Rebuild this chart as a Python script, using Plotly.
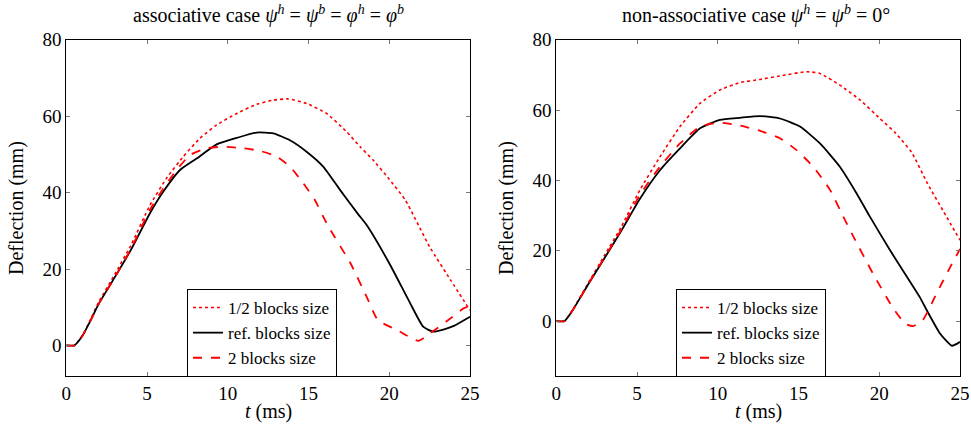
import plotly.graph_objects as go

# ---------------- data: left panel (associative case) ----------------
t_ref_a = [0, 0.5, 1.0, 1.5, 2.0, 3.0, 4.0, 5.18, 6.0, 7.04, 8.07, 9.31, 10.55, 11.79, 12.82,
           13.85, 14.88, 15.91, 16.95, 18.08, 18.6, 20.0, 21.3, 22.1, 22.7, 23.4, 24.0, 25.0]
v_ref_a = [0, 0, 2.5, 6.5, 10.8, 17.8, 25.0, 34.6, 40.2, 45.9, 48.9, 52.6, 54.3, 55.7, 55.5,
           53.7, 50.7, 46.8, 40.7, 34.3, 31.5, 21.5, 11.0, 4.9, 3.6, 4.2, 5.1, 7.5]

t_half_a = [0, 0.5, 1.0, 1.5, 2.0, 3.0, 4.0, 5.18, 6.2, 7.24, 8.28, 9.31, 10.55, 11.79, 12.82,
            13.75, 14.88, 16.12, 17.36, 18.19, 19.0, 20.0, 21.0, 22.5, 23.8, 25.0]
v_half_a = [0, 0, 2.6, 6.8, 11.3, 18.6, 26.2, 36.7, 43.7, 49.4, 54.2, 57.7, 60.7, 63.1, 64.2,
            64.5, 63.3, 60.7, 55.9, 52.0, 48.5, 43.5, 38.0, 25.8, 17.1, 9.2]

t_two_a = [0, 0.5, 1.0, 1.5, 2.0, 3.0, 4.0, 5.18, 6.0, 6.83, 7.66, 8.69, 9.72, 10.96, 12.0,
           13.03, 13.85, 14.68, 15.4, 15.91, 16.3, 17.6, 18.6, 19.3, 20.5, 21.8, 22.5, 23.8, 24.6, 25.0]
v_two_a = [0, 0, 2.5, 6.5, 10.8, 17.8, 25.2, 35.5, 41.0, 45.9, 49.8, 51.6, 52.0, 51.6, 50.9,
           49.4, 46.8, 42.4, 38.0, 33.7, 30.6, 21.5, 12.7, 6.6, 4.0, 1.2, 3.1, 7.1, 9.7, 10.3]

# ---------------- data: right panel (non-associative case) ----------------
t_ref_b = [0, 0.5, 1.0, 2.0, 3.0, 4.0, 5.18, 6.42, 7.66, 8.9, 10.13, 11.37, 12.61, 13.85, 15.09,
           16.33, 17.56, 18.6, 19.42, 20.66, 22.5, 23.0, 23.76, 24.5, 25.0]
v_ref_b = [0, 0, 3.0, 10.6, 18.0, 25.5, 34.8, 42.9, 49.1, 54.8, 57.2, 57.8, 58.3, 57.6, 55.3,
           50.5, 43.9, 36.3, 29.7, 20.2, 6.9, 2.6, -3.5, -7.0, -5.9]

t_half_b = [0, 0.5, 1.0, 2.0, 3.0, 4.0, 5.18, 6.42, 7.66, 8.9, 10.13, 11.37, 12.61, 13.85, 15.5,
            16.33, 17.56, 18.8, 20.04, 21.0, 22.0, 23.0, 24.0, 25.0]
v_half_b = [0, 0, 3.1, 11.0, 18.8, 26.6, 37.3, 46.7, 55.3, 61.9, 65.7, 67.8, 68.7, 69.7, 70.9,
            70.4, 67.1, 62.9, 57.6, 53.5, 48.0, 39.0, 31.0, 23.0]

t_two_b = [0, 0.5, 1.0, 2.0, 3.0, 4.0, 5.18, 6.42, 7.66, 8.9, 10.13, 11.37, 12.61, 13.85, 14.88,
           15.91, 16.95, 17.77, 18.4, 19.6, 20.8, 21.6, 22.1, 22.7, 23.55, 24.4, 25.0]
v_two_b = [0, 0, 3.0, 10.7, 18.2, 25.8, 35.9, 43.9, 50.5, 55.3, 56.4, 55.6, 54.1, 52.0, 48.6,
           43.9, 37.3, 29.7, 24.0, 13.6, 4.1, -0.7, -1.4, 0.3, 7.9, 15.4, 20.5]

series_names = ["1/2 blocks size", "ref. blocks size", "2 blocks size"]
x_ticks = [0, 5, 10, 15, 20, 25]
y_ticks = [0, 20, 40, 60, 80]

FONT = "Liberation Serif"
RED = "#ff0000"

fig = go.Figure()

def add_panel(xa, ya, leg, data):
    styles = [dict(color=RED, dash="dot", width=1.6, shape="spline", smoothing=0.5),
              dict(color="black", dash="solid", width=1.8, shape="spline", smoothing=0.5),
              dict(color=RED, dash="dash", width=1.8, shape="spline", smoothing=0.5)]
    for (tt, vv), name, st in zip(data, series_names, styles):
        fig.add_trace(go.Scatter(x=tt, y=vv, mode="lines", name=name, line=st,
                                 xaxis=xa, yaxis=ya, legend=leg, showlegend=True))

add_panel("x", "y", "legend", [(t_half_a, v_half_a), (t_ref_a, v_ref_a), (t_two_a, v_two_a)])
add_panel("x2", "y2", "legend2", [(t_half_b, v_half_b), (t_ref_b, v_ref_b), (t_two_b, v_two_b)])

W, H = 971, 432
def px(x):
    return x / W
def py(y):
    return 1 - y / H

axis_common = dict(showline=True, linecolor="black", linewidth=1, mirror="ticks",
                   ticks="inside", ticklen=4, tickcolor="#777", showgrid=False, zeroline=False,
                   automargin=False,
                   tickfont=dict(family=FONT, size=19, color="black"))

legend_common = dict(xanchor="left", yanchor="top", bordercolor="black",
                     borderwidth=1, bgcolor="white", font=dict(family=FONT, size=17, color="black"),
                     tracegroupgap=0, itemwidth=30)

fig.update_layout(
    width=W, height=H,
    font=dict(family=FONT, size=19, color="black"),
    margin=dict(l=0, r=0, t=0, b=0),
    paper_bgcolor="white", plot_bgcolor="white",
    xaxis=dict(domain=[px(66.3), px(470)], range=[0, 25], tickvals=x_ticks, anchor="y", **axis_common),
    yaxis=dict(domain=[py(376), py(39.7)], range=[-8, 80], tickvals=y_ticks, anchor="x", **axis_common),
    xaxis2=dict(domain=[px(556.3), px(960)], range=[0, 25], tickvals=x_ticks, anchor="y2", **axis_common),
    yaxis2=dict(domain=[py(376), py(39.7)], range=[-15.6, 80], tickvals=y_ticks, anchor="x2", **axis_common),
    legend=dict(x=px(187), y=py(289), **legend_common),
    legend2=dict(x=px(676), y=py(289), **legend_common),
    showlegend=True,
)

tfont = dict(family=FONT, size=20, color="black")
common_ann = dict(xref="paper", yref="paper", showarrow=False, font=tfont,
                  xanchor="center", yanchor="middle")
annotations = [
    dict(text="associative case <i>ψ</i><sup><i>h</i></sup> = <i>ψ</i><sup><i>b</i></sup> = <i>φ</i><sup><i>h</i></sup> = <i>φ</i><sup><i>b</i></sup>",
         x=px(268), y=py(14), **common_ann),
    dict(text="non-associative case <i>ψ</i><sup><i>h</i></sup> = <i>ψ</i><sup><i>b</i></sup> = 0°",
         x=px(756), y=py(14), **common_ann),
    dict(text="<i>t</i> (ms)", x=px(268), y=py(411), **common_ann),
    dict(text="<i>t</i> (ms)", x=px(758), y=py(411), **common_ann),
    dict(text="Deflection (mm)", x=px(17), y=py(208), textangle=-90, **common_ann),
    dict(text="Deflection (mm)", x=px(507), y=py(208), textangle=-90, **common_ann),
]
fig.update_layout(annotations=annotations)

fig.write_html("out.html", config={"displayModeBar": False},
               post_script="document.body.style.margin='0';document.body.style.overflow='hidden';")
